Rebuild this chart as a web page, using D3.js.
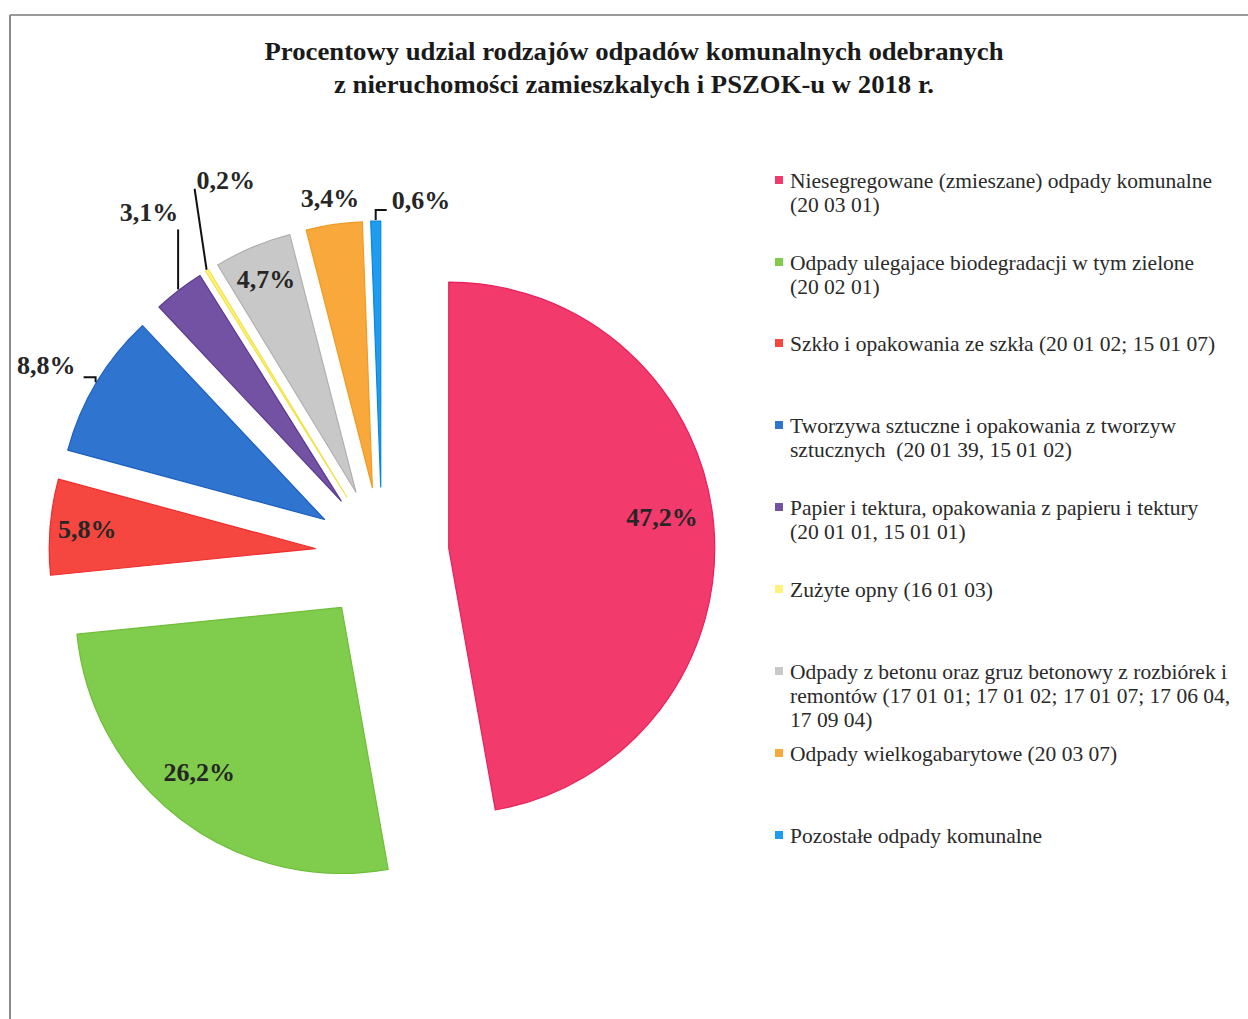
<!DOCTYPE html>
<html>
<head>
<meta charset="utf-8">
<script src="https://cdn.jsdelivr.net/npm/d3@7"></script>
<style>
  html, body { margin: 0; padding: 0; background: #fff; }
  svg { display: block; }
</style>
</head>
<body>
<svg id="chart" width="1248" height="1019"></svg>
<script>
// ---- data ----
const titleLines = [
  "Procentowy udzial rodzajów odpadów komunalnych odebranych",
  "z nieruchomości zamieszkalych i PSZOK-u w 2018 r."
];
const categories = [
  ["Niesegregowane (zmieszane) odpady komunalne", "(20 03 01)"],
  ["Odpady ulegajace biodegradacji w tym zielone", "(20 02 01)"],
  ["Szkło i opakowania ze szkła (20 01 02; 15 01 07)"],
  ["Tworzywa sztuczne i opakowania z tworzyw", "sztucznych  (20 01 39, 15 01 02)"],
  ["Papier i tektura, opakowania z papieru i tektury", "(20 01 01, 15 01 01)"],
  ["Zużyte opny (16 01 03)"],
  ["Odpady z betonu oraz gruz betonowy z rozbiórek i", "remontów (17 01 01; 17 01 02; 17 01 07; 17 06 04,", "17 09 04)"],
  ["Odpady wielkogabarytowe (20 03 07)"],
  ["Pozostałe odpady komunalne"]
];
const values = [47.2, 26.2, 5.8, 8.8, 3.1, 0.2, 4.7, 3.4, 0.6];
const valueLabels = ["47,2%", "26,2%", "5,8%", "8,8%", "3,1%", "0,2%", "4,7%", "3,4%", "0,6%"];
const colors = ["#F23A6C", "#80CC4C", "#F5473F", "#2F74CF", "#7352A3", "#FFF27A", "#C8C8C8", "#F9A93C", "#1E9CEF"];
const strokes = ["#E8205A", "#6DBE38", "#EE2C2C", "#1A5FC0", "#5A3A90", "#F2E24A", "#B0B0B0", "#F09A20", "#0A86E0"];

// ---- layout (not data) ----
const W = 1248, H = 1019;
const cx = 382, cy = 554, R = 266, explode = 67;
// label placement per slice
const labelLayout = [
  {inside: true, rf: 0.81, da: -3},
  {inside: true, rf: 0.82, da: 3.7},
  {inside: true, rf: 0.86, da: 0},
  {inside: false, leader: [[0, -5], [-12, -5]], text: [-20, -8], anchor: "end"},
  {inside: false, leader: [[0, -60]], text: [0, -68], anchor: "end"},
  {inside: false, leader: [[-12, -81]], text: [-10, -81], anchor: "start"},
  {inside: true, rf: 0.87, da: 0},
  {inside: false, leader: [], text: [-4, -16], anchor: "middle"},
  {inside: false, leader: [[0, -10], [11, -10]], text: [16, -11], anchor: "start"}
];

const svg = d3.select("#chart");

// frame
svg.append("line").attr("x1", 10).attr("x2", W).attr("y1", 15).attr("y2", 15)
  .attr("stroke", "#9a9a9a").attr("stroke-width", 2);
svg.append("line").attr("x1", 10).attr("x2", 10).attr("y1", 15).attr("y2", H)
  .attr("stroke", "#8a8a8a").attr("stroke-width", 2);

// title
const titleG = svg.append("g").attr("font-family", "'Liberation Serif', 'Times New Roman', serif")
  .attr("font-weight", "bold").attr("fill", "#1a1a1a").attr("text-anchor", "middle");
const titleWidths = [739, 600];
titleLines.forEach((t, i) => {
  titleG.append("text").attr("x", 634).attr("y", 60 + i * 33)
    .attr("font-size", 25)
    .attr("textLength", titleWidths[i]).attr("lengthAdjust", "spacingAndGlyphs")
    .text(t);
});

// pie
const pie = d3.pie().sort(null).value(d => d).startAngle(0).endAngle(2 * Math.PI);
const arcs = pie(values);
const arc = d3.arc().innerRadius(0).outerRadius(R);

const dir = a => [Math.sin(a), -Math.cos(a)];

const pieG = svg.append("g").attr("transform", `translate(${cx},${cy})`);
const sliceG = pieG.selectAll("g.slice").data(arcs).enter().append("g")
  .attr("class", "slice")
  .attr("transform", d => {
    const m = (d.startAngle + d.endAngle) / 2;
    const [dx, dy] = dir(m);
    return `translate(${dx * explode},${dy * explode})`;
  });
sliceG.append("path")
  .attr("d", arc)
  .attr("fill", (d, i) => colors[i])
  .attr("stroke", (d, i) => strokes[i])
  .attr("stroke-width", 1.2)
  .attr("stroke-linejoin", "round");

// labels
const labG = pieG.append("g").attr("font-family", "'Liberation Serif', 'Times New Roman', serif")
  .attr("font-weight", "bold").attr("font-size", 26).attr("fill", "#262626");
arcs.forEach((d, i) => {
  const L = labelLayout[i];
  const m = (d.startAngle + d.endAngle) / 2;
  const [ox, oy] = dir(m).map(v => v * explode);
  if (L.inside) {
    const a = m + L.da * Math.PI / 180;
    const [ux, uy] = dir(a);
    labG.append("text")
      .attr("x", ox + ux * R * L.rf).attr("y", oy + uy * R * L.rf)
      .attr("text-anchor", "middle").attr("dominant-baseline", "central")
      .text(valueLabels[i]);
  } else {
    const [ux, uy] = dir(m);
    const sx = ox + ux * (R + 1), sy = oy + uy * (R + 1);
    if (L.leader.length) {
      const pts = [[sx, sy]].concat(L.leader.map(p => [sx + p[0], sy + p[1]]));
      labG.append("path").attr("d", d3.line()(pts))
        .attr("fill", "none").attr("stroke", "#111").attr("stroke-width", 2);
    }
    labG.append("text")
      .attr("x", sx + L.text[0]).attr("y", sy + L.text[1])
      .attr("text-anchor", L.anchor)
      .text(valueLabels[i]);
  }
});

// legend
const legendY = [181, 263, 344, 426, 508, 590, 672, 754, 836];
const legG = svg.append("g").attr("font-family", "'Liberation Serif', 'Times New Roman', serif")
  .attr("font-size", 21.5).attr("fill", "#2a2a2a");
categories.forEach((lines, i) => {
  const y0 = legendY[i];
  legG.append("rect").attr("x", 775).attr("y", y0 - 5).attr("width", 8).attr("height", 8)
    .attr("fill", colors[i]);
  lines.forEach((t, j) => {
    legG.append("text").attr("x", 790).attr("y", y0 + j * 24)
      .attr("dominant-baseline", "central")
      .attr("xml:space", "preserve")
      .text(t);
  });
});
</script>
</body>
</html>
